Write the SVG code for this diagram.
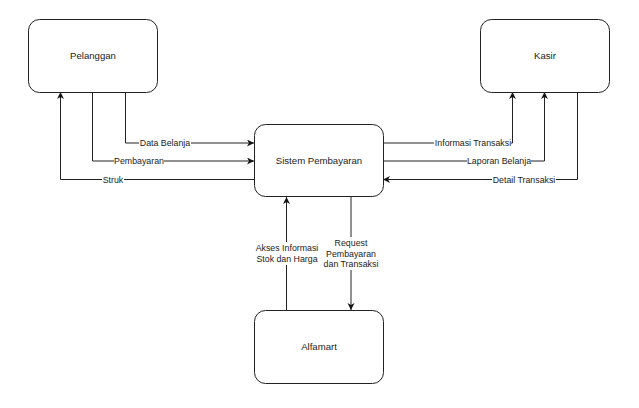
<svg xmlns="http://www.w3.org/2000/svg" width="639" height="408" viewBox="0 0 639 408">
<style>
.node{fill:#fff;stroke:#222;stroke-width:1}
.title{font-family:"Liberation Sans",Arial,sans-serif;font-size:9.6px;fill:#222;text-anchor:middle}
.edge{fill:none;stroke:#222;stroke-width:1}
.bg{fill:#fff}
.lbl{font-family:"Liberation Sans",Arial,sans-serif;font-size:8.8px;fill:#222;text-anchor:middle}
</style>
<defs>
<marker id="arr" markerWidth="8" markerHeight="8" refX="7" refY="3.5" orient="auto" markerUnits="userSpaceOnUse">
<path d="M0,0 L7,3.5 L0,7 L2,3.5 z" fill="#111"/>
</marker>
</defs>
<rect width="639" height="408" fill="#fff"/>
<g id="connectors">
<path class="edge" d="M125.5,92 V143 H254" marker-end="url(#arr)"/>
<path class="edge" d="M92.5,92 V161 H254" marker-end="url(#arr)"/>
<path class="edge" d="M254,179.5 H60.5 V92" marker-end="url(#arr)"/>
<path class="edge" d="M383,143 H512.5 V92" marker-end="url(#arr)"/>
<path class="edge" d="M383,161 H544.5 V92" marker-end="url(#arr)"/>
<path class="edge" d="M577.5,92 V179.5 H383" marker-end="url(#arr)"/>
<path class="edge" d="M286.5,310 V197" marker-end="url(#arr)"/>
<path class="edge" d="M351,197 V310" marker-end="url(#arr)"/>
<rect class="bg" x="139" y="138" width="52" height="10"/>
<rect class="bg" x="114" y="156" width="50" height="10"/>
<rect class="bg" x="102" y="174.5" width="22" height="10"/>
<rect class="bg" x="434" y="138" width="77" height="10"/>
<rect class="bg" x="467" y="156" width="64" height="10"/>
<rect class="bg" x="492" y="174.5" width="64" height="10"/>
<rect class="bg" x="255" y="242" width="64" height="23"/>
<rect class="bg" x="323" y="237" width="56" height="33"/>
<text class="lbl" x="165" y="146">Data Belanja</text>
<text class="lbl" x="139" y="164">Pembayaran</text>
<text class="lbl" x="113" y="182.5">Struk</text>
<text class="lbl" x="473" y="146">Informasi Transaksi</text>
<text class="lbl" x="499" y="164">Laporan Belanja</text>
<text class="lbl" x="524" y="182.5">Detail Transaksi</text>
<text class="lbl" x="287" y="251.3">Akses Informasi</text>
<text class="lbl" x="287" y="262.3">Stok dan Harga</text>
<text class="lbl" x="351" y="246">Request</text>
<text class="lbl" x="351" y="256.5">Pembayaran</text>
<text class="lbl" x="351" y="267">dan Transaksi</text>
</g>
<g id="pelanggan">
<rect class="node" x="28.5" y="19.5" width="129" height="73" rx="11"/>
<text class="title" x="93" y="59">Pelanggan</text>
</g>
<g id="kasir">
<rect class="node" x="480.5" y="19.5" width="129" height="73" rx="11"/>
<text class="title" x="545" y="59">Kasir</text>
</g>
<g id="sistem">
<rect class="node" x="254.5" y="124.5" width="129" height="72" rx="11"/>
<text class="title" x="319" y="164">Sistem Pembayaran</text>
</g>
<g id="alfamart">
<rect class="node" x="254.5" y="310.5" width="129" height="73" rx="11"/>
<text class="title" x="319" y="350">Alfamart</text>
</g>
</svg>
